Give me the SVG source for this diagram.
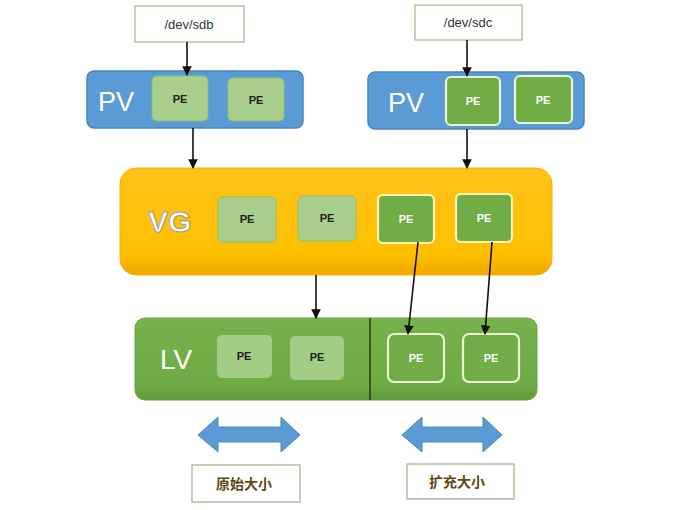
<svg xmlns="http://www.w3.org/2000/svg" width="688" height="510" viewBox="0 0 688 510">
<defs>
<style>
.dev{fill:#fff;stroke:#a8b38a;stroke-width:1.2}
.devt{font-family:"Liberation Sans",Arial,sans-serif;font-size:13px;fill:#333;text-anchor:middle}
.pv{fill:#5b9bd5;stroke:#4a86c0;stroke-width:1.5}
.big{font-family:"Liberation Sans",Arial,sans-serif;fill:#fff;text-anchor:start}
.pel{fill:#a9cf8c;stroke:#8fbf6e;stroke-width:1}
.ped{fill:#70ad47;stroke:#e8f5d0;stroke-width:2.2}
.pet{font-family:"Liberation Sans",Arial,sans-serif;font-size:11px;font-weight:bold;text-anchor:middle}
.dk{fill:#222}
.wt{fill:#fff}
.ln{stroke:#111;stroke-width:1.6;fill:none}
.lab{fill:#fff;stroke:#a8a88a;stroke-width:1.2}
.labt{font-family:"Noto Sans CJK SC",sans-serif;font-size:14px;font-weight:bold;fill:#5a4a10;text-anchor:middle}
.dbl{fill:#5b9bd5;stroke:#4a86c0;stroke-width:1}
</style>
<marker id="ah" viewBox="0 0 10 10" refX="9" refY="5" markerWidth="6" markerHeight="6" orient="auto">
<path d="M0,0 L10,5 L0,10 z" fill="#111"/>
</marker>
<linearGradient id="vgG" x1="0" y1="0" x2="0" y2="1">
<stop offset="0" stop-color="#ffc21a"/>
<stop offset="0.8" stop-color="#ffc000"/>
<stop offset="1" stop-color="#f0a800"/>
</linearGradient>
<linearGradient id="lvG" x1="0" y1="0" x2="0" y2="1">
<stop offset="0" stop-color="#76b24c"/>
<stop offset="0.8" stop-color="#6fab45"/>
<stop offset="1" stop-color="#5e9a38"/>
</linearGradient>
</defs>
<rect width="688" height="510" fill="#fff"/>

<g id="dev-sdb">
<rect class="dev" x="135" y="6" width="109" height="36"/>
<text class="devt" x="189" y="29">/dev/sdb</text>
</g>
<g id="dev-sdc">
<rect class="dev" x="415" y="5" width="107" height="35"/>
<text class="devt" x="468" y="27">/dev/sdc</text>
</g>

<g id="pv1">
<rect class="pv" x="87" y="71" width="216" height="57" rx="7"/>
<text class="big" x="98" y="111" font-size="27">PV</text>
<rect class="pel" x="152" y="76" width="56" height="45" rx="5"/>
<text class="pet dk" x="180" y="103">PE</text>
<rect class="pel" x="228" y="78" width="56" height="43" rx="5"/>
<text class="pet dk" x="256" y="104">PE</text>
</g>

<g id="pv2">
<rect class="pv" x="368" y="72" width="216" height="57" rx="7"/>
<text class="big" x="388" y="112" font-size="27">PV</text>
<rect class="ped" x="446" y="77" width="54" height="48" rx="5"/>
<text class="pet wt" x="473" y="105">PE</text>
<rect class="ped" x="515" y="76" width="57" height="47" rx="5"/>
<text class="pet wt" x="543" y="104">PE</text>
</g>

<g id="vg">
<rect x="120" y="168" width="432" height="107" rx="16" fill="url(#vgG)" stroke="#f2b400" stroke-width="1"/>
<text x="148" y="232" font-family="Liberation Sans,Arial,sans-serif" font-size="30" font-weight="bold" fill="#fff" stroke="#9a9a9a" stroke-width="1">VG</text>
<rect class="pel" x="218" y="197" width="58" height="45" rx="5"/>
<text class="pet dk" x="247" y="223">PE</text>
<rect class="pel" x="298" y="196" width="58" height="45" rx="5"/>
<text class="pet dk" x="327" y="222">PE</text>
<rect x="378" y="195" width="56" height="48" rx="5" fill="#70ad47" stroke="#fff3b0" stroke-width="2.2"/>
<text class="pet wt" x="406" y="223">PE</text>
<rect x="456" y="194" width="56" height="48" rx="5" fill="#70ad47" stroke="#fff3b0" stroke-width="2.2"/>
<text class="pet wt" x="484" y="222">PE</text>
</g>

<g id="lv">
<rect x="135" y="318" width="402" height="82" rx="10" fill="url(#lvG)" stroke="#62a03a" stroke-width="1"/>
<line x1="370" y1="318" x2="370" y2="400" stroke="#1a2a10" stroke-width="1.3"/>
<text class="big" x="160" y="369" font-size="28">LV</text>
<rect x="217" y="335" width="55" height="43" rx="5" fill="#a3cc86"/>
<text class="pet dk" x="244" y="360">PE</text>
<rect x="290" y="336" width="54" height="44" rx="5" fill="#a3cc86"/>
<text class="pet dk" x="317" y="361">PE</text>
<rect class="ped" x="388" y="334" width="56" height="48" rx="6"/>
<text class="pet wt" x="416" y="362">PE</text>
<rect class="ped" x="463" y="334" width="56" height="48" rx="6"/>
<text class="pet wt" x="491" y="362">PE</text>
</g>

<g id="sizes">
<path class="dbl" d="M198,435 L218,417 L218,427 L281,427 L281,417 L300,435 L281,452 L281,442 L218,442 L218,452 Z"/>
<path class="dbl" d="M402,435 L422,417 L422,427 L483,427 L483,417 L502,435 L483,452 L483,442 L422,442 L422,452 Z"/>
</g>
<g id="label-orig">
<rect class="lab" x="192" y="465" width="108" height="37"/>
<text class="labt" x="244" y="489">原始大小</text>
</g>
<g id="label-ext">
<rect class="lab" x="407" y="464" width="107" height="35"/>
<text class="labt" x="457" y="487">扩充大小</text>
</g>

<g id="connectors">
<line class="ln" x1="187" y1="42" x2="187" y2="75" marker-end="url(#ah)"/>
<line class="ln" x1="467" y1="40" x2="467" y2="76" marker-end="url(#ah)"/>
<line class="ln" x1="193" y1="128" x2="193" y2="168" marker-end="url(#ah)"/>
<line class="ln" x1="467" y1="129" x2="467" y2="168" marker-end="url(#ah)"/>
<line class="ln" x1="316" y1="275" x2="316" y2="318" marker-end="url(#ah)"/>
<line class="ln" x1="418" y1="242" x2="408" y2="334" marker-end="url(#ah)"/>
<line class="ln" x1="492" y1="242" x2="485" y2="334" marker-end="url(#ah)"/>
</g>
</svg>
